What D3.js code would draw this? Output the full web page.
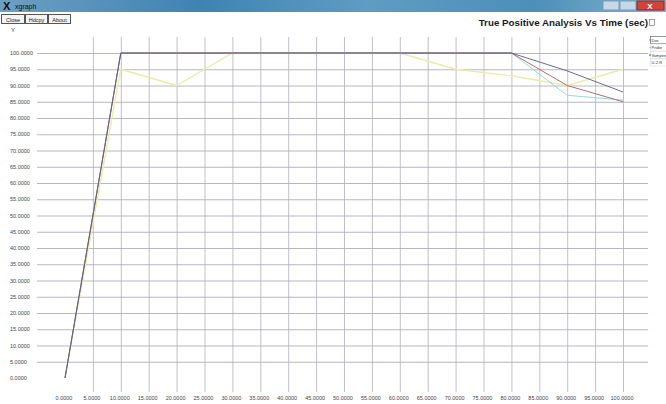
<!DOCTYPE html>
<html>
<head>
<meta charset="utf-8">
<script src="https://cdn.jsdelivr.net/npm/d3@7"></script>
<style>
  body { margin: 0; background: #fff; }
  svg { display: block; font-family: 'Liberation Sans', Arial, sans-serif; }
</style>
</head>
<body>
<div class="chart"></div>
<script>
// data
const times = [0, 10, 20, 30, 40, 50, 60, 70, 80, 90, 100];
const dos = [0, 100, 100, 100, 100, 100, 100, 100, 100, 90, 85];
const probe = [0, 100, 100, 100, 100, 100, 100, 100, 100, 87, 85.5];
const vampire = [0, 100, 100, 100, 100, 100, 100, 100, 100, 94.5, 88];
const u2r = [0, 95, 90, 100, 100, 100, 100, 95, 93, 90, 95];
const seriesNames = ['Dos', 'Probe', 'Vampire', 'U-2-R'];
const xTicks = d3.range(0, 101, 5);
const yTicks = d3.range(0, 101, 5);

const width = 666, height = 404;

const svg = d3.select('.chart')
  .append('svg')
  .attr('width', width)
  .attr('height', height);

// window chrome
const grad = svg.append('defs').append('linearGradient').attr('id', 'bar');
grad.append('stop').attr('offset', '0%').attr('stop-color', '#6d9fc2');
grad.append('stop').attr('offset', '30%').attr('stop-color', '#3f83b3');
grad.append('stop').attr('offset', '55%').attr('stop-color', '#5f9cc2');
grad.append('stop').attr('offset', '80%').attr('stop-color', '#4d8fb8');
grad.append('stop').attr('offset', '100%').attr('stop-color', '#7fb2cc');

svg.append('rect').attr('x', 0).attr('y', 0).attr('width', width).attr('height', 12).attr('fill', 'url(#bar)');
svg.append('text').attr('x', 3).attr('y', 10).attr('font-size', 11).attr('font-weight', 'bold').attr('fill', '#111').text('X');
svg.append('text').attr('x', 15).attr('y', 9).attr('font-size', 7).attr('fill', '#111').text('xgraph');

// window buttons at top right
svg.append('rect').attr('x', 603).attr('y', 1).attr('width', 16).attr('height', 9).attr('fill', '#c4d8e6').attr('stroke', '#7f9db5');
svg.append('rect').attr('x', 620).attr('y', 1).attr('width', 16).attr('height', 9).attr('fill', '#c4d8e6').attr('stroke', '#7f9db5');
svg.append('rect').attr('x', 637).attr('y', 1).attr('width', 27).attr('height', 9).attr('fill', '#d0453a').attr('stroke', '#8a2a22');
svg.append('text').attr('x', 650).attr('y', 9).attr('text-anchor', 'middle').attr('font-size', 8).attr('font-weight', 'bold').attr('fill', '#fff').text('X');

const buttons = [['Close', 1, 23], ['Hdcpy', 25, 22], ['About', 48, 22]];
buttons.forEach(b => {
  svg.append('rect').attr('x', b[1] + 0.5).attr('y', 14.5).attr('width', b[2]).attr('height', 9)
    .attr('fill', '#f4f4f4').attr('stroke', '#555');
  svg.append('text').attr('x', b[1] + b[2] / 2 + 0.5).attr('y', 21.5).attr('text-anchor', 'middle')
    .attr('font-size', 5.5).attr('fill', '#222').text(b[0]);
});
svg.append('text').attr('x', 11).attr('y', 32).attr('font-size', 6).attr('fill', '#333').text('Y');

// title
svg.append('text').attr('x', 648).attr('y', 26).attr('text-anchor', 'end')
  .attr('font-size', 9.8).attr('font-weight', 'bold').attr('fill', '#1a1a1a')
  .text('True Positive Analysis Vs Time (sec)');
svg.append('rect').attr('x', 649.5).attr('y', 19.5).attr('width', 5).attr('height', 6)
  .attr('fill', 'none').attr('stroke', '#666').attr('stroke-width', 0.6);

// scales
const x = d3.scaleLinear().domain([0, 100]).range([65, 623]);
const y = d3.scaleLinear().domain([0, 100]).range([378, 53]);

// grid
const grid = svg.append('g');
grid.selectAll('.hg')
  .data(yTicks.filter(d => d > 0))
  .enter()
  .append('line')
  .attr('x1', 37).attr('x2', 648)
  .attr('y1', d => y(d) + 0.5).attr('y2', d => y(d) + 0.5)
  .attr('stroke', '#a4a4b8').attr('stroke-width', 0.8);

grid.selectAll('.vg')
  .data(xTicks.filter(d => d > 0))
  .enter()
  .append('line')
  .attr('x1', d => x(d) + 0.5).attr('x2', d => x(d) + 0.5)
  .attr('y1', 37).attr('y2', 392)
  .attr('stroke', '#b0b0bc').attr('stroke-width', 0.8);

// tick labels
svg.append('g').selectAll('text')
  .data(yTicks)
  .enter()
  .append('text')
  .attr('x', 10)
  .attr('y', d => y(d) + 2)
  .attr('font-size', 5.5)
  .attr('fill', '#444')
  .text(d => d.toFixed(4));

svg.append('g').selectAll('text')
  .data(xTicks)
  .enter()
  .append('text')
  .attr('x', d => x(d) - 1)
  .attr('y', 400)
  .attr('text-anchor', 'middle')
  .attr('font-size', 5.5)
  .attr('fill', '#444')
  .text(d => d.toFixed(4));

// lines
const series = [
  { name: 'U-2-R', values: u2r, color: '#e8eea8', w: 1.4 },
  { name: 'Probe', values: probe, color: '#98dada', w: 1 },
  { name: 'Dos', values: dos, color: '#b07070', w: 1 },
  { name: 'Vampire', values: vampire, color: '#5a5a80', w: 0.9 }
];

const line = d3.line()
  .x((d, i) => x(times[i]))
  .y(d => y(d));

svg.append('g').selectAll('path')
  .data(series)
  .enter()
  .append('path')
  .attr('d', d => line(d.values))
  .attr('fill', 'none')
  .attr('stroke', d => d.color)
  .attr('stroke-width', d => d.w);

// legend at the right window edge
const legend = svg.append('g');
seriesNames.forEach((n, i) => {
  const s = series.find(f => f.name === n);
  legend.append('rect')
    .attr('x', 650.5).attr('y', 36.5 + i * 7.5)
    .attr('width', 20).attr('height', 7)
    .attr('fill', '#fff')
    .attr('stroke', i === 0 ? '#555' : '#ddd')
    .attr('stroke-width', 0.6);
  legend.append('text')
    .attr('x', 651.5).attr('y', 41.5 + i * 7.5)
    .attr('font-size', 4)
    .attr('fill', '#333')
    .text(n);
  legend.append('line')
    .attr('x1', 649).attr('x2', 651)
    .attr('y1', 40 + i * 7.5).attr('y2', 40 + i * 7.5)
    .attr('stroke', s.color);
});
</script>
</body>
</html>
